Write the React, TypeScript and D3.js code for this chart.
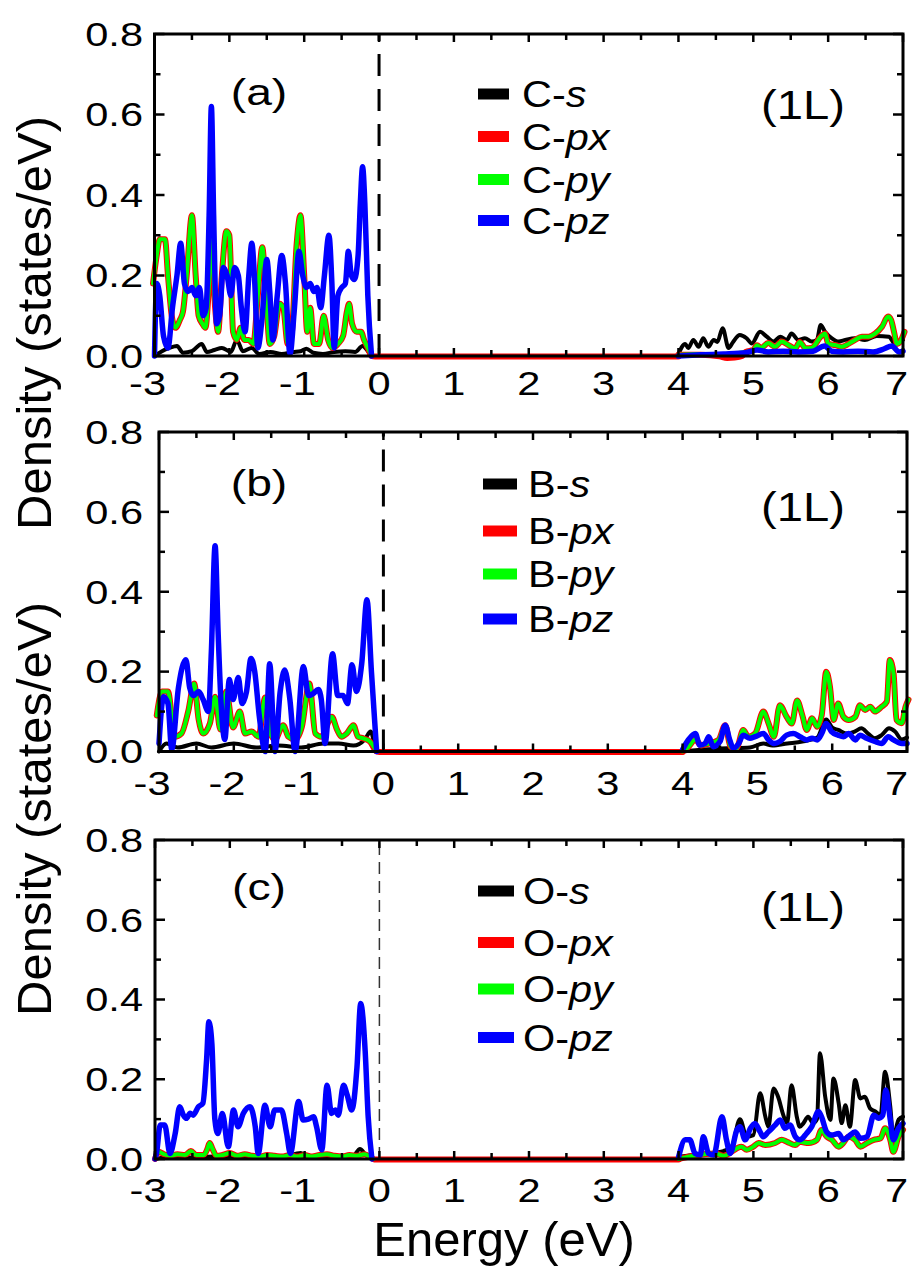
import React from "react";
import * as d3 from "d3";

type P = [number, number];

// ---------- tick values ----------
const xTicks = [-3, -2, -1, 0, 1, 2, 3, 4, 5, 6, 7];
const yTicks = [0, 0.2, 0.4, 0.6, 0.8];
const xDomain: [number, number] = [-3, 7];
const yDomain: [number, number] = [0, 0.8];

// ---------- Panel (a): C ----------
const C_s_val: P[] = [[-3.0, 0.0], [-2.9, 0.012], [-2.8, 0.02], [-2.7, 0.025], [-2.62, 0.008], [-2.5, 0.012], [-2.37, 0.03], [-2.3, 0.01], [-2.2, 0.015], [-2.1, 0.02], [-1.98, 0.01], [-1.9, 0.04], [-1.82, 0.012], [-1.7, 0.02], [-1.6, 0.005], [-1.45, 0.01], [-1.3, 0.005], [-1.15, 0.01], [-1.05, 0.012], [-0.97, 0.018], [-0.88, 0.008], [-0.75, 0.005], [-0.6, 0.01], [-0.45, 0.012], [-0.32, 0.01], [-0.22, 0.025], [-0.14, 0.01], [-0.08, 0.0]];
const C_py_val: P[] = [[-3.02, 0.18], [-2.97, 0.25], [-2.93, 0.29], [-2.86, 0.29], [-2.82, 0.2], [-2.77, 0.1], [-2.72, 0.07], [-2.66, 0.09], [-2.62, 0.11], [-2.57, 0.2], [-2.5, 0.35], [-2.45, 0.2], [-2.41, 0.1], [-2.36, 0.08], [-2.32, 0.07], [-2.28, 0.15], [-2.24, 0.29], [-2.19, 0.12], [-2.15, 0.06], [-2.1, 0.2], [-2.04, 0.31], [-2.0, 0.3], [-1.95, 0.06], [-1.9, 0.04], [-1.85, 0.07], [-1.8, 0.04], [-1.74, 0.04], [-1.68, 0.03], [-1.62, 0.15], [-1.56, 0.27], [-1.51, 0.15], [-1.46, 0.03], [-1.4, 0.05], [-1.33, 0.13], [-1.28, 0.12], [-1.22, 0.03], [-1.17, 0.05], [-1.1, 0.28], [-1.05, 0.35], [-1.0, 0.2], [-0.96, 0.06], [-0.92, 0.12], [-0.87, 0.03], [-0.8, 0.03], [-0.74, 0.1], [-0.68, 0.04], [-0.62, 0.02], [-0.55, 0.03], [-0.48, 0.05], [-0.43, 0.11], [-0.4, 0.13], [-0.36, 0.08], [-0.3, 0.06], [-0.24, 0.06], [-0.2, 0.04], [-0.15, 0.02], [-0.1, 0.0]];
const C_pz_val: P[] = [[-3.0, 0.0], [-2.97, 0.18], [-2.93, 0.15], [-2.88, 0.05], [-2.82, 0.02], [-2.76, 0.12], [-2.7, 0.2], [-2.65, 0.28], [-2.6, 0.18], [-2.55, 0.16], [-2.5, 0.17], [-2.45, 0.15], [-2.4, 0.17], [-2.35, 0.1], [-2.31, 0.12], [-2.27, 0.35], [-2.24, 0.62], [-2.21, 0.35], [-2.17, 0.08], [-2.13, 0.1], [-2.08, 0.22], [-2.03, 0.2], [-1.98, 0.15], [-1.93, 0.22], [-1.88, 0.2], [-1.84, 0.12], [-1.79, 0.06], [-1.74, 0.2], [-1.7, 0.28], [-1.66, 0.18], [-1.62, 0.02], [-1.56, 0.1], [-1.5, 0.24], [-1.46, 0.16], [-1.42, 0.04], [-1.36, 0.15], [-1.3, 0.25], [-1.25, 0.18], [-1.19, 0.005], [-1.13, 0.12], [-1.07, 0.26], [-1.02, 0.2], [-0.97, 0.17], [-0.92, 0.18], [-0.87, 0.16], [-0.83, 0.17], [-0.78, 0.12], [-0.73, 0.2], [-0.67, 0.3], [-0.63, 0.18], [-0.6, 0.02], [-0.55, 0.15], [-0.5, 0.17], [-0.45, 0.18], [-0.41, 0.26], [-0.37, 0.2], [-0.33, 0.19], [-0.28, 0.25], [-0.25, 0.38], [-0.22, 0.47], [-0.19, 0.38], [-0.15, 0.15], [-0.1, 0.0]];
const C_s_cond: P[] = [[4.0, 0.005], [4.09, 0.03], [4.13, 0.02], [4.2, 0.04], [4.27, 0.023], [4.33, 0.044], [4.4, 0.023], [4.47, 0.04], [4.52, 0.035], [4.59, 0.069], [4.67, 0.02], [4.73, 0.035], [4.82, 0.052], [4.91, 0.044], [4.98, 0.031], [5.09, 0.06], [5.18, 0.048], [5.27, 0.036], [5.36, 0.048], [5.45, 0.04], [5.51, 0.056], [5.6, 0.04], [5.69, 0.044], [5.78, 0.036], [5.85, 0.04], [5.9, 0.077], [5.96, 0.06], [6.05, 0.044], [6.14, 0.036], [6.23, 0.04], [6.36, 0.044], [6.49, 0.04], [6.65, 0.05], [6.81, 0.048], [6.89, 0.031], [7.0, 0.04]];
const C_py_cond: P[] = [[4.0, 0.003], [4.3, 0.005], [4.6, 0.005], [4.9, 0.01], [5.0, 0.015], [5.05, 0.027], [5.1, 0.02], [5.2, 0.032], [5.29, 0.023], [5.38, 0.036], [5.47, 0.027], [5.56, 0.019], [5.62, 0.035], [5.7, 0.019], [5.78, 0.02], [5.9, 0.048], [5.96, 0.056], [6.0, 0.03], [6.1, 0.027], [6.18, 0.023], [6.27, 0.03], [6.36, 0.04], [6.45, 0.048], [6.54, 0.048], [6.63, 0.056], [6.72, 0.073], [6.8, 0.098], [6.84, 0.09], [6.88, 0.06], [6.92, 0.03], [6.96, 0.035], [7.02, 0.06]];
const C_px_cond: P[] = [[4.0, 0.003], [4.3, 0.003], [4.55, -0.001], [4.65, -0.005], [4.75, -0.004], [4.85, 0.0], [4.9, 0.01], [5.0, 0.015], [5.05, 0.027], [5.1, 0.02], [5.2, 0.032], [5.29, 0.023], [5.38, 0.036], [5.47, 0.027], [5.56, 0.019], [5.62, 0.035], [5.7, 0.019], [5.78, 0.02], [5.9, 0.048], [5.96, 0.056], [6.0, 0.03], [6.1, 0.027], [6.18, 0.023], [6.27, 0.03], [6.36, 0.04], [6.45, 0.048], [6.54, 0.048], [6.63, 0.056], [6.72, 0.073], [6.8, 0.098], [6.84, 0.09], [6.88, 0.06], [6.92, 0.03], [6.96, 0.035], [7.02, 0.06]];
const C_pz_cond: P[] = [[4.0, 0.0], [4.3, 0.003], [4.6, 0.005], [4.9, 0.008], [5.05, 0.015], [5.2, 0.01], [5.4, 0.012], [5.6, 0.01], [5.8, 0.012], [5.95, 0.025], [6.05, 0.012], [6.2, 0.01], [6.4, 0.012], [6.6, 0.01], [6.75, 0.018], [6.85, 0.025], [6.95, 0.01], [7.0, 0.012]];

// ---------- Panel (b): B ----------
const B_s_val: P[] = [[-3.0, 0.0], [-2.9, 0.02], [-2.75, 0.01], [-2.5, 0.02], [-2.3, 0.01], [-2.0, 0.02], [-1.7, 0.01], [-1.4, 0.015], [-1.1, 0.01], [-0.8, 0.02], [-0.6, 0.02], [-0.4, 0.015], [-0.25, 0.03], [-0.17, 0.05], [-0.12, 0.02], [-0.08, 0.0]];
const B_py_val: P[] = [[-3.03, 0.09], [-2.96, 0.15], [-2.88, 0.15], [-2.79, 0.037], [-2.7, 0.045], [-2.61, 0.1], [-2.53, 0.17], [-2.47, 0.08], [-2.41, 0.045], [-2.32, 0.07], [-2.25, 0.137], [-2.18, 0.055], [-2.1, 0.15], [-2.01, 0.06], [-1.92, 0.1], [-1.85, 0.045], [-1.76, 0.05], [-1.67, 0.037], [-1.58, 0.135], [-1.52, 0.05], [-1.45, 0.03], [-1.34, 0.066], [-1.27, 0.037], [-1.18, 0.03], [-1.09, 0.062], [-0.99, 0.17], [-0.91, 0.045], [-0.83, 0.037], [-0.69, 0.087], [-0.62, 0.055], [-0.56, 0.037], [-0.49, 0.045], [-0.4, 0.066], [-0.34, 0.037], [-0.27, 0.033], [-0.18, 0.025], [-0.09, 0.0]];
const B_pz_val: P[] = [[-3.0, 0.02], [-2.94, 0.137], [-2.88, 0.12], [-2.83, 0.005], [-2.74, 0.16], [-2.64, 0.23], [-2.59, 0.16], [-2.54, 0.14], [-2.47, 0.15], [-2.41, 0.13], [-2.34, 0.1], [-2.3, 0.25], [-2.25, 0.515], [-2.21, 0.3], [-2.17, 0.12], [-2.12, 0.03], [-2.06, 0.18], [-2.01, 0.13], [-1.94, 0.185], [-1.89, 0.12], [-1.83, 0.15], [-1.77, 0.233], [-1.72, 0.2], [-1.66, 0.09], [-1.58, 0.0], [-1.52, 0.22], [-1.45, 0.0], [-1.38, 0.15], [-1.32, 0.204], [-1.25, 0.13], [-1.18, 0.0], [-1.07, 0.213], [-1.0, 0.14], [-0.94, 0.145], [-0.87, 0.155], [-0.83, 0.13], [-0.78, 0.02], [-0.68, 0.245], [-0.61, 0.14], [-0.54, 0.14], [-0.48, 0.12], [-0.42, 0.217], [-0.36, 0.15], [-0.29, 0.22], [-0.22, 0.38], [-0.16, 0.2], [-0.09, 0.0]];
const B_s_cond: P[] = [[4.0, 0.0], [4.3, 0.005], [4.6, 0.008], [4.9, 0.01], [5.08, 0.02], [5.2, 0.015], [5.4, 0.02], [5.6, 0.025], [5.8, 0.035], [5.92, 0.08], [6.0, 0.06], [6.08, 0.054], [6.2, 0.045], [6.3, 0.05], [6.39, 0.058], [6.48, 0.045], [6.57, 0.033], [6.66, 0.041], [6.76, 0.058], [6.84, 0.05], [6.93, 0.03], [7.0, 0.035]];
const B_py_cond: P[] = [[4.0, 0.0], [4.08, 0.012], [4.17, 0.03], [4.25, 0.015], [4.35, 0.02], [4.48, 0.029], [4.57, 0.066], [4.64, 0.012], [4.72, 0.008], [4.81, 0.054], [4.88, 0.037], [4.97, 0.045], [5.08, 0.1], [5.15, 0.07], [5.22, 0.037], [5.3, 0.116], [5.39, 0.087], [5.46, 0.07], [5.53, 0.128], [5.6, 0.091], [5.66, 0.054], [5.73, 0.083], [5.8, 0.062], [5.86, 0.091], [5.92, 0.2], [5.97, 0.162], [6.02, 0.079], [6.08, 0.12], [6.15, 0.087], [6.22, 0.079], [6.31, 0.087], [6.37, 0.116], [6.44, 0.104], [6.51, 0.112], [6.57, 0.1], [6.66, 0.112], [6.73, 0.125], [6.77, 0.229], [6.82, 0.196], [6.86, 0.079], [6.93, 0.071], [6.98, 0.112], [7.02, 0.13]];
const B_pz_cond: P[] = [[4.0, 0.005], [4.08, 0.03], [4.17, 0.045], [4.23, 0.016], [4.3, 0.02], [4.35, 0.037], [4.41, 0.012], [4.5, 0.025], [4.57, 0.066], [4.63, 0.029], [4.68, 0.008], [4.75, 0.02], [4.81, 0.041], [4.9, 0.033], [4.97, 0.037], [5.08, 0.045], [5.15, 0.029], [5.22, 0.02], [5.3, 0.025], [5.39, 0.041], [5.48, 0.045], [5.57, 0.037], [5.66, 0.029], [5.73, 0.033], [5.8, 0.029], [5.86, 0.045], [5.92, 0.07], [5.99, 0.05], [6.08, 0.041], [6.15, 0.037], [6.22, 0.045], [6.31, 0.029], [6.37, 0.041], [6.46, 0.033], [6.57, 0.025], [6.66, 0.02], [6.75, 0.037], [6.82, 0.029], [6.93, 0.02], [7.0, 0.02]];

// ---------- Panel (c): O ----------
const O_s_val: P[] = [[-3.0, 0.0], [-2.8, 0.005], [-2.5, 0.004], [-2.2, 0.006], [-1.9, 0.004], [-1.6, 0.005], [-1.3, 0.004], [-1.05, 0.015], [-0.95, 0.004], [-0.6, 0.005], [-0.35, 0.008], [-0.26, 0.025], [-0.18, 0.01], [-0.1, 0.0]];
const O_py_val: P[] = [[-3.0, 0.0], [-2.95, 0.018], [-2.88, 0.012], [-2.8, 0.008], [-2.7, 0.012], [-2.6, 0.01], [-2.52, 0.02], [-2.45, 0.01], [-2.35, 0.01], [-2.3, 0.025], [-2.27, 0.04], [-2.23, 0.025], [-2.18, 0.008], [-2.1, 0.01], [-2.0, 0.015], [-1.9, 0.008], [-1.8, 0.012], [-1.7, 0.008], [-1.6, 0.006], [-1.5, 0.01], [-1.4, 0.008], [-1.3, 0.006], [-1.2, 0.01], [-1.1, 0.006], [-1.0, 0.01], [-0.9, 0.006], [-0.8, 0.01], [-0.7, 0.012], [-0.6, 0.008], [-0.5, 0.006], [-0.4, 0.01], [-0.3, 0.008], [-0.2, 0.012], [-0.12, 0.005], [-0.08, 0.0]];
const O_pz_val: P[] = [[-3.0, 0.0], [-2.98, 0.014], [-2.93, 0.085], [-2.87, 0.085], [-2.8, 0.014], [-2.73, 0.064], [-2.67, 0.131], [-2.62, 0.11], [-2.58, 0.102], [-2.53, 0.115], [-2.49, 0.11], [-2.42, 0.131], [-2.36, 0.14], [-2.31, 0.25], [-2.28, 0.344], [-2.24, 0.29], [-2.2, 0.1], [-2.16, 0.064], [-2.1, 0.114], [-2.02, 0.031], [-1.95, 0.123], [-1.89, 0.081], [-1.82, 0.114], [-1.73, 0.131], [-1.66, 0.081], [-1.62, 0.014], [-1.53, 0.135], [-1.46, 0.081], [-1.4, 0.123], [-1.31, 0.123], [-1.24, 0.064], [-1.19, 0.014], [-1.08, 0.144], [-1.02, 0.098], [-0.95, 0.1], [-0.88, 0.106], [-0.84, 0.081], [-0.77, 0.023], [-0.7, 0.185], [-0.64, 0.114], [-0.59, 0.123], [-0.55, 0.11], [-0.48, 0.185], [-0.43, 0.16], [-0.37, 0.123], [-0.3, 0.23], [-0.25, 0.39], [-0.19, 0.27], [-0.15, 0.106], [-0.1, 0.0]];
const O_s_cond: P[] = [[4.0, 0.005], [4.2, 0.01], [4.45, 0.015], [4.6, 0.02], [4.71, 0.03], [4.82, 0.1], [4.91, 0.056], [5.0, 0.06], [5.09, 0.165], [5.16, 0.106], [5.2, 0.081], [5.27, 0.177], [5.33, 0.156], [5.4, 0.11], [5.45, 0.09], [5.51, 0.185], [5.58, 0.106], [5.62, 0.081], [5.67, 0.09], [5.73, 0.106], [5.8, 0.09], [5.85, 0.1], [5.89, 0.265], [5.96, 0.156], [6.03, 0.098], [6.07, 0.202], [6.14, 0.14], [6.18, 0.09], [6.23, 0.135], [6.29, 0.081], [6.36, 0.198], [6.43, 0.152], [6.49, 0.156], [6.56, 0.127], [6.63, 0.119], [6.7, 0.11], [6.76, 0.219], [6.83, 0.131], [6.87, 0.056], [6.94, 0.098], [7.0, 0.106]];
const O_py_cond: P[] = [[4.0, 0.0], [4.2, 0.008], [4.49, 0.014], [4.6, 0.008], [4.84, 0.031], [4.91, 0.023], [5.0, 0.031], [5.07, 0.04], [5.16, 0.035], [5.29, 0.04], [5.38, 0.048], [5.45, 0.043], [5.56, 0.035], [5.62, 0.043], [5.74, 0.04], [5.85, 0.048], [5.91, 0.073], [5.98, 0.056], [6.05, 0.048], [6.14, 0.031], [6.2, 0.04], [6.27, 0.056], [6.36, 0.048], [6.43, 0.031], [6.52, 0.04], [6.61, 0.048], [6.7, 0.052], [6.76, 0.077], [6.83, 0.048], [6.87, 0.018], [6.94, 0.056], [7.0, 0.073]];
const O_pz_cond: P[] = [[4.0, 0.005], [4.09, 0.048], [4.15, 0.048], [4.22, 0.014], [4.29, 0.01], [4.33, 0.056], [4.4, 0.014], [4.47, 0.01], [4.58, 0.106], [4.64, 0.048], [4.69, 0.014], [4.78, 0.073], [4.82, 0.081], [4.89, 0.048], [4.96, 0.077], [5.02, 0.089], [5.09, 0.068], [5.13, 0.056], [5.2, 0.068], [5.29, 0.085], [5.36, 0.098], [5.42, 0.077], [5.49, 0.085], [5.56, 0.056], [5.62, 0.048], [5.71, 0.064], [5.78, 0.081], [5.87, 0.119], [5.91, 0.106], [5.98, 0.068], [6.05, 0.06], [6.14, 0.064], [6.2, 0.048], [6.27, 0.056], [6.36, 0.068], [6.43, 0.052], [6.52, 0.056], [6.61, 0.11], [6.67, 0.102], [6.73, 0.11], [6.77, 0.173], [6.83, 0.098], [6.87, 0.048], [6.94, 0.077], [7.0, 0.089]];

// red (px) curve runs just below zero across the gap
const gapPx: P[] = [[-0.05, -0.0015], [4.0, -0.0015]];

const orbitals = ["s", "px", "py", "pz"];
const colors = ["#000000", "#ff0000", "#00ff00", "#0000ff"];
const widths = [4, 6, 4, 5.5];

type Panel = {
  el: string; tag: string;
  left: number; right: number; top: number; bottom: number;
  series: P[][][];
  dashW: number; dash: string; dashColor: string;
  legX: number; legW: number; legTextX: number; legY: number[];
  tagY: number; oneLY: number; xLabOff: number;
};

const panels: Panel[] = [
  {
    el: "C", tag: "(a)", left: 154.5, right: 903, top: 34, bottom: 356,
    series: [[C_s_val, C_s_cond], [[...C_py_val, ...gapPx], C_px_cond], [C_py_val, C_py_cond], [C_pz_val, C_pz_cond]],
    dashW: 3, dash: "22,13", dashColor: "#000",
    legX: 478, legW: 31, legTextX: 522, legY: [94, 136.5, 179.5, 220.5],
    tagY: 105, oneLY: 119, xLabOff: 39,
  },
  {
    el: "B", tag: "(b)", left: 159, right: 907, top: 432, bottom: 751.5,
    series: [[B_s_val, B_s_cond], [[...B_py_val, ...gapPx], B_py_cond], [B_py_val, B_py_cond], [B_pz_val, B_pz_cond]],
    dashW: 3, dash: "22,13", dashColor: "#000",
    legX: 483, legW: 34, legTextX: 528, legY: [484, 531, 574, 619],
    tagY: 496, oneLY: 521, xLabOff: 43,
  },
  {
    el: "O", tag: "(c)", left: 155, right: 903, top: 840, bottom: 1159,
    series: [[O_s_val, O_s_cond], [[...O_py_val, ...gapPx], O_py_cond], [O_py_val, O_py_cond], [O_pz_val, O_pz_cond]],
    dashW: 1.5, dash: "12,7", dashColor: "#333",
    legX: 478, legW: 36, legTextX: 523, legY: [891, 942.5, 989, 1037.5],
    tagY: 900, oneLY: 921, xLabOff: 43,
  },
];

const FONT = "'Liberation Sans', Arial, Helvetica, sans-serif";
const TICK_FS = 33;
const TICK_SX = 1.26;

function SText({ x, y, sx = 1, size, anchor = "start", children }: any) {
  return (
    <text transform={`translate(${x},${y}) scale(${sx},1)`} fontSize={size} textAnchor={anchor} fill="#000">
      {children}
    </text>
  );
}

function PanelView({ p }: { p: Panel }) {
  const x = d3.scaleLinear().domain(xDomain).range([p.left, p.right]);
  const y = d3.scaleLinear().domain(yDomain).range([p.bottom, p.top]);
  const line = d3.line<P>().x((d) => x(d[0])).y((d) => y(d[1])).curve(d3.curveMonotoneX);
  const xMinor = d3.range(-2.5, 7, 1);
  const yMinor = d3.range(0.1, 0.8, 0.2);
  const half = (0.556 * TICK_FS * TICK_SX) / 2;
  return (
    <g>
      <line x1={x(0)} x2={x(0)} y1={y(0)} y2={y(0.8)} stroke={p.dashColor} strokeWidth={p.dashW} strokeDasharray={p.dash} />
      {p.series.map((segs, i) =>
        segs.map((seg, j) => (
          <path key={`${i}-${j}`} d={line(seg) || ""} fill="none" stroke={colors[i]} strokeWidth={widths[i]} strokeLinejoin="round" strokeLinecap="round" />
        ))
      )}
      <rect x={p.left} y={p.top} width={p.right - p.left} height={p.bottom - p.top} fill="none" stroke="#000" strokeWidth={3} />
      {xTicks.map((t) => (
        <g key={`xt${t}`}>
          <line x1={x(t)} x2={x(t)} y1={p.bottom} y2={p.bottom - 8} stroke="#000" strokeWidth={2.5} />
          <line x1={x(t)} x2={x(t)} y1={p.top} y2={p.top + 8} stroke="#000" strokeWidth={2.5} />
          <SText x={Math.min(x(t) + half, 908)} y={p.bottom + p.xLabOff} sx={TICK_SX} size={TICK_FS} anchor="end">{String(t)}</SText>
        </g>
      ))}
      {xMinor.map((t) => (
        <g key={`xm${t}`}>
          <line x1={x(t)} x2={x(t)} y1={p.bottom} y2={p.bottom - 6} stroke="#000" strokeWidth={2.5} />
          <line x1={x(t)} x2={x(t)} y1={p.top} y2={p.top + 6} stroke="#000" strokeWidth={2.5} />
        </g>
      ))}
      {yTicks.map((t) => (
        <g key={`yt${t}`}>
          <line x1={p.left} x2={p.left + 10} y1={y(t)} y2={y(t)} stroke="#000" strokeWidth={2.5} />
          <line x1={p.right} x2={p.right - 10} y1={y(t)} y2={y(t)} stroke="#000" strokeWidth={2.5} />
          <SText x={143} y={y(t) + 11.8} sx={TICK_SX} size={TICK_FS} anchor="end">{t.toFixed(1)}</SText>
        </g>
      ))}
      {yMinor.map((t) => (
        <g key={`ym${t}`}>
          <line x1={p.left} x2={p.left + 6} y1={y(t)} y2={y(t)} stroke="#000" strokeWidth={2.5} />
          <line x1={p.right} x2={p.right - 6} y1={y(t)} y2={y(t)} stroke="#000" strokeWidth={2.5} />
        </g>
      ))}
      {orbitals.map((o, i) => (
        <g key={`lg${o}`}>
          <rect x={p.legX} y={p.legY[i] - 5.5} width={p.legW} height={11} fill={colors[i]} />
          <SText x={p.legTextX} y={p.legY[i] + 13} sx={1.12} size={37}>
            {p.el}-<tspan fontStyle="italic">{o}</tspan>
          </SText>
        </g>
      ))}
      <SText x={259} y={p.tagY} sx={1.25} size={37} anchor="middle">{p.tag}</SText>
      <SText x={803} y={p.oneLY} sx={1.18} size={40} anchor="middle">(1L)</SText>
    </g>
  );
}

export default function App() {
  return (
    <svg width={915} height={1267} style={{ position: "absolute", left: 0, top: 0, background: "#fff" }} fontFamily={FONT}>
      <rect x={0} y={0} width={915} height={1267} fill="#fff" />
      {panels.map((p) => (
        <PanelView key={p.tag} p={p} />
      ))}
      <text transform="translate(51,323) rotate(-90)" fontSize={49} textAnchor="middle" fill="#000">Density (states/eV)</text>
      <text transform="translate(51,809) rotate(-90)" fontSize={49} textAnchor="middle" fill="#000">Density (states/eV)</text>
      <text x={504} y={1256} fontSize={49} textAnchor="middle" fill="#000">Energy (eV)</text>
    </svg>
  );
}
